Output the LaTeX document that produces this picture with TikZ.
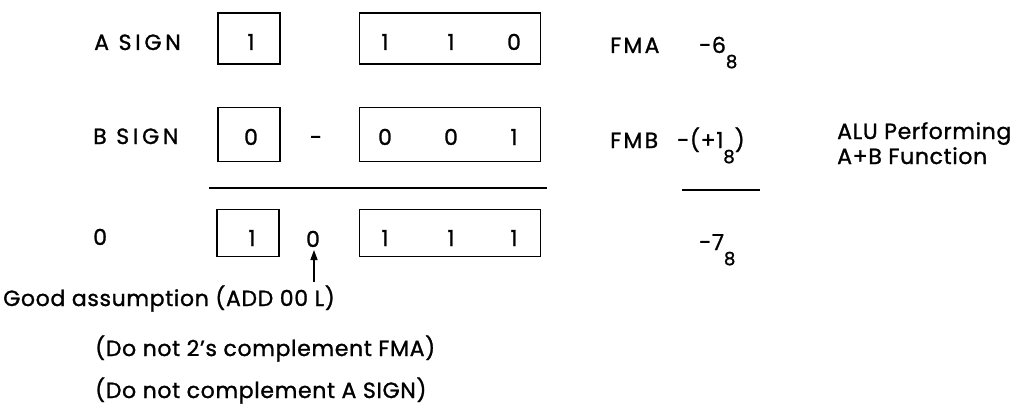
\documentclass[tikz,border=0pt]{standalone}
\usepackage{fontspec}
\setmainfont{Poppins}[FakeBold=1.2,LetterSpace=3]
\usetikzlibrary{arrows.meta}
\newcommand{\sub}[1]{\raisebox{-15pt}{\fontsize{18}{18}\selectfont #1}}
\begin{document}
\begin{tikzpicture}[x=1pt,y=-1pt,
  txt/.style={inner sep=0pt,anchor=base west,font=\fontsize{22}{25}\selectfont},
  lbl/.style={txt,font=\fontsize{22}{25}\selectfont\addfontfeature{LetterSpace=17}},
  captxt/.style={txt,font=\fontsize{22}{25}\selectfont\addfontfeature{LetterSpace=10}},
  dig/.style={inner sep=0pt,anchor=base,font=\fontsize{22}{25}\selectfont},
  regbox/.style={draw,line width=1.8pt,inner sep=0pt},
  rule/.style={line width=1.6pt}]
\useasboundingbox (0,0) rectangle (1023,412);
% row labels
\node[lbl] (asign) at (94,50) {A SIGN};
\node[lbl] (bsign) at (93,144) {B SIGN};
\node[txt] (czero) at (93,245) {0};
% row 1 boxes
\node[regbox,minimum width=62pt,minimum height=51pt] (as) at (249,38.5) {};
\node[dig] (asd) at (251,50) {1};
\node[regbox,minimum width=181pt,minimum height=51pt] (am) at (450,38.5) {};
\node[dig] at (385,50) {1};
\node[dig] at (451,50) {1};
\node[dig] at (514,50) {0};
% row 2 boxes
\node[regbox,minimum width=62pt,minimum height=54pt] (bs) at (249,134.5) {};
\node[dig] at (251,145) {0};
\node[dig] (minus) at (316,145) {-};
\node[regbox,minimum width=181pt,minimum height=54pt] (bm) at (450,134.5) {};
\node[dig] at (385,145) {0};
\node[dig] at (451,145) {0};
\node[dig] at (514,145) {1};
% rule
\coordinate (r1a) at (209,188);
\coordinate (r1b) at (547,188);
\draw[rule] (r1a) -- (r1b);
% row 3 boxes
\node[regbox,minimum width=62pt,minimum height=47pt] (cs) at (248,233) {};
\node[dig] at (252,246) {1};
\node[dig] (carry) at (313,247) {0};
\node[regbox,minimum width=181pt,minimum height=47pt] (cm) at (450,233) {};
\node[dig] at (385,246) {1};
\node[dig] at (451,246) {1};
\node[dig] at (514,246) {1};
% arrow
\coordinate (atail) at (314,282);
\coordinate (ahead) at (314,250);
\draw[line width=1.4pt,-{Triangle[length=10pt,width=7pt]}] (atail) -- (ahead);
% right side
\node[captxt] (fma) at (610,53) {FMA};
\node[captxt] (fmb) at (610,148) {FMB};
\node[txt] (va) at (699,53) {-6\sub{8}};
\node[txt] (vb) at (677,148) {-(+1\sub{8})};
\coordinate (r2a) at (682,190);
\coordinate (r2b) at (760,190);
\draw[rule] (r2a) -- (r2b);
\node[txt] (vc) at (699,250) {-7\sub{8}};
\node[txt,anchor=north west,align=left] (alu) at (837,122) {ALU Performing\\A+B Function};
% notes
\node[txt] (n1) at (3,306) {Good assumption (ADD 00 L)};
\node[txt] (n2) at (95,356) {(Do not 2's complement FMA)};
\node[txt] (n3) at (95,398) {(Do not complement A SIGN)};
\end{tikzpicture}
\end{document}
